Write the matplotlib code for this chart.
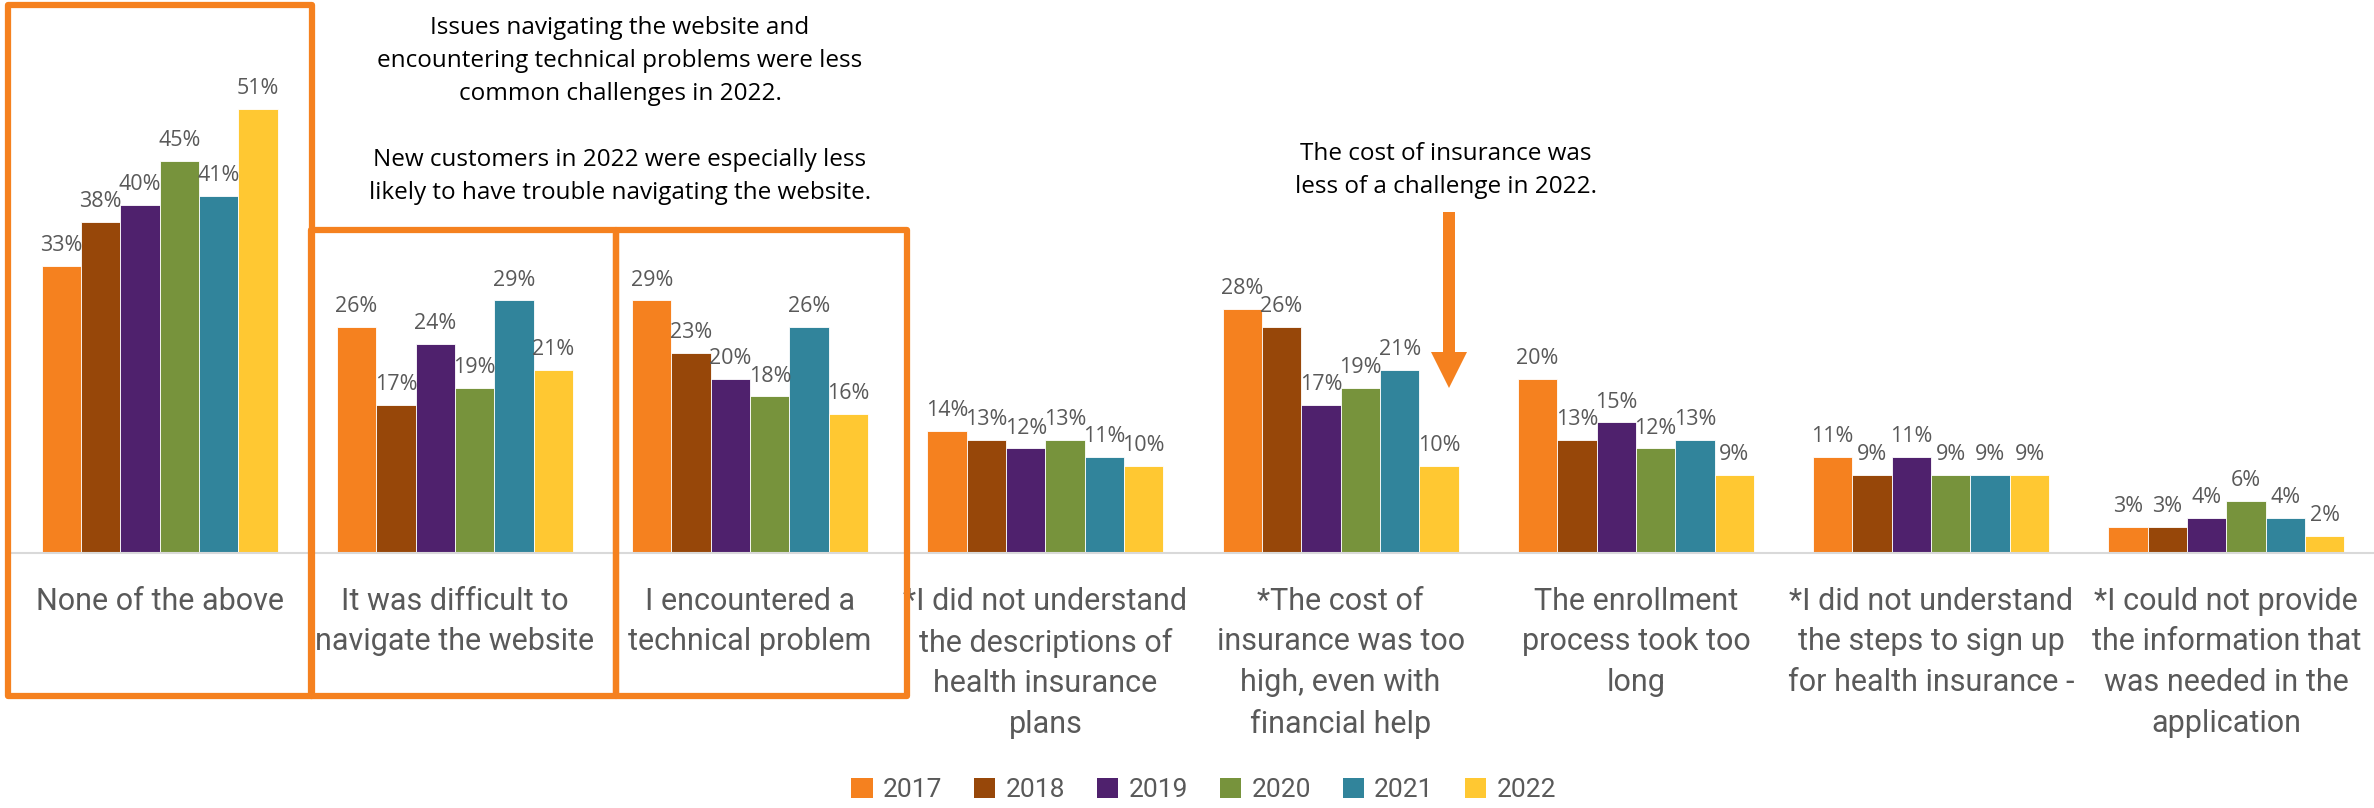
import numpy as np
import matplotlib.pyplot as plt
import matplotlib.transforms as mtransforms
from matplotlib.patches import Rectangle, FancyArrow, Patch

plt.rcParams['font.family'] = ['Open Sans', 'DejaVu Sans']

# Données
categories = [
    "None of the above",
    "It was difficult to\nnavigate the website",
    "I encountered a\ntechnical problem",
    "*I did not understand\nthe descriptions of\nhealth insurance\nplans",
    "*The cost of\ninsurance was too\nhigh, even with\nfinancial help",
    "The enrollment\nprocess took too\nlong",
    "*I did not understand\nthe steps to sign up\nfor health insurance -",
    "*I could not provide\nthe information that\nwas needed in the\napplication",
]
years = ["2017", "2018", "2019", "2020", "2021", "2022"]
v2017 = [33, 26, 29, 14, 28, 20, 11, 3]
v2018 = [38, 17, 23, 13, 26, 13, 9, 3]
v2019 = [40, 24, 20, 12, 17, 15, 11, 4]
v2020 = [45, 19, 18, 13, 19, 12, 9, 6]
v2021 = [41, 29, 26, 11, 21, 13, 9, 4]
v2022 = [51, 21, 16, 10, 10, 9, 9, 2]
series = [v2017, v2018, v2019, v2020, v2021, v2022]
colors = ['#F5811F', '#974709', '#4F216D', '#77933C', '#31849B', '#FFC832']

W, H = 2374, 808
fig = plt.figure(figsize=(W / 100, H / 100), dpi=100)
ax = fig.add_axes([12 / W, 1 - 553 / H, 1 - 12 / W, 553 / H])

x = np.arange(len(categories))
bw = 0.8 / len(series)
for i, (vals, c) in enumerate(zip(series, colors)):
    pos = x - 0.4 + bw * (i + 0.5)
    bars = ax.bar(pos, vals, width=bw, color=c, edgecolor='white', linewidth=0.6)
    for b, v in zip(bars, vals):
        ax.annotate(f"{v}%", (b.get_x() + b.get_width() / 2, v),
                    xytext=(0, 7), textcoords='offset points',
                    ha='center', va='bottom', fontsize=15.5, color='#595959')

ax.set_xlim(-0.5, len(categories) - 0.5)
ax.set_ylim(0, 63.5)
ax.set_yticks([])
ax.set_xticks([])
for s in ['top', 'right', 'left']:
    ax.spines[s].set_visible(False)
ax.spines['bottom'].set_color('#D9D9D9')
ax.spines['bottom'].set_linewidth(1.5)

# Étiquettes des catégories
trans = mtransforms.blended_transform_factory(ax.transData, fig.transFigure)
for xi, lab in zip(x, categories):
    ax.text(xi, 1 - 587 / H, lab, transform=trans,
            ha='center', va='top', fontsize=22, color='#595959',
            linespacing=1.5, family=['Roboto', 'DejaVu Sans'])

# Calque en pixels pour les encadrés et la flèche
ov = fig.add_axes([0, 0, 1, 1])
ov.set_xlim(0, W)
ov.set_ylim(H, 0)
ov.axis('off')
ov.patch.set_visible(False)
orange = '#F5811F'
for (x0, y0, x1, y1) in [(8, 5, 312, 696), (311, 230, 616, 696), (616, 230, 907, 696)]:
    ov.add_patch(Rectangle((x0, y0), x1 - x0, y1 - y0, fill=False,
                           edgecolor=orange, linewidth=4.5, joinstyle='round'))
ov.add_patch(FancyArrow(1449, 212, 0, 176, width=12, head_width=36,
                        head_length=36, length_includes_head=True,
                        color=orange, linewidth=0))

fig.text(620 / W, 1 - 16 / H,
         "Issues navigating the website and\nencountering technical problems were less\n"
         "common challenges in 2022.\n\nNew customers in 2022 were especially less\n"
         "likely to have trouble navigating the website.",
         ha='center', va='top', fontsize=17.5, color='black', linespacing=1.5)
fig.text(1446 / W, 1 - 142 / H,
         "The cost of insurance was\nless of a challenge in 2022.",
         ha='center', va='top', fontsize=17.5, color='black', linespacing=1.5)

handles = [Patch(facecolor=c, label=y) for c, y in zip(colors, years)]
fig.legend(handles=handles, loc='center', bbox_to_anchor=(1204 / W, 1 - 790 / H),
           ncol=6, frameon=False, handlelength=0.8, handleheight=0.8,
           handletextpad=0.4, columnspacing=1.2, labelcolor='#595959',
           prop={'family': ['Roboto', 'DejaVu Sans'], 'size': 19})

fig.savefig('out.png', dpi=100)
